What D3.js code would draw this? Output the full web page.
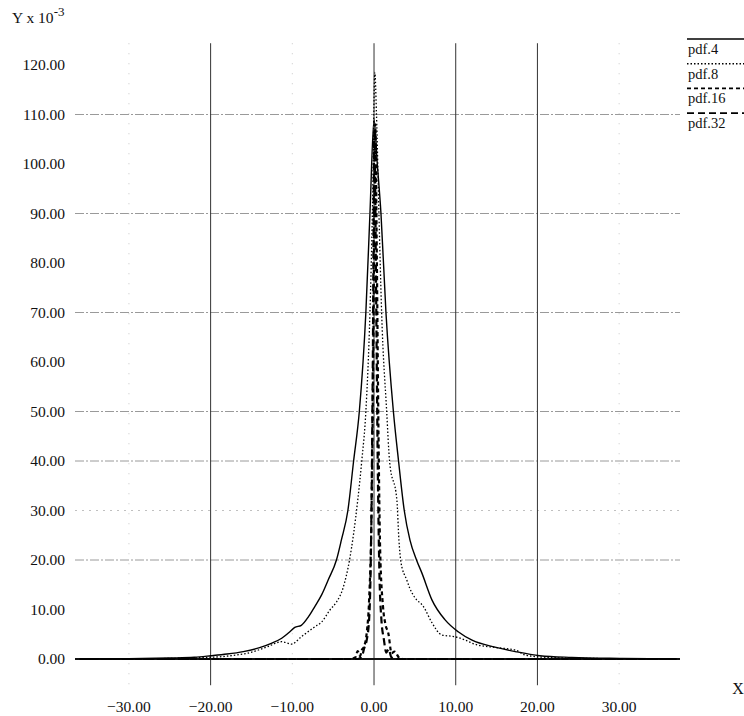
<!DOCTYPE html>
<html>
<head>
<meta charset="utf-8">
<script src="https://cdn.jsdelivr.net/npm/d3@7"></script>
<style>
  body { margin: 0; background: #fff; }
  text { font-family: "Liberation Serif", "DejaVu Serif", serif; fill: #111; }
</style>
</head>
<body>
<div id="chart"></div>
<script>
// values (Y in units of 10^-3)
const yTicks = [0, 10, 20, 30, 40, 50, 60, 70, 80, 90, 100, 110, 120];
const xTicks = [-30, -20, -10, 0, 10, 20, 30];
const hGrid = [20, 30, 40, 50, 70, 90, 110];
const vGridSolid = [-20, 0, 10, 20];
const vGridFaint = [-30, -10, 30];

const seriesNames = ["pdf.4", "pdf.8", "pdf.16", "pdf.32"];

const pdf4X = [-36, -30, -25, -22, -20, -18, -16, -14, -12.5, -11.3, -10.3, -9.7, -8.9, -8, -7.25, -6.4, -5.6, -4.6, -4.0, -3.2, -2.5, -1.8, -1.0, -0.5, 0, 0.4, 0.85, 1.46, 2.37, 3.0, 3.7, 4.4, 5.2, 5.85, 7.1, 8.7, 10.3, 12.0, 14.8, 17.3, 20.3, 24.2, 30.4, 37];
const pdf4Y = [0, 0.05, 0.2, 0.35, 0.65, 1.0, 1.5, 2.3, 3.2, 4.2, 5.5, 6.4, 6.8, 8.6, 10.6, 13, 16, 20, 24, 30, 40, 50, 70, 90, 109, 100, 90, 70, 50, 40, 30, 24, 20, 17.4, 11.9, 7.9, 5.5, 3.8, 2.4, 1.5, 0.67, 0.33, 0.13, 0];

const pdf8X = [-36, -28, -24, -20, -18.7, -16.5, -15.4, -13, -11.3, -10.1, -8.9, -7.25, -6.4, -5.4, -4.6, -3.8, -3.0, -2.0, -1.5, -1.0, -0.5, -0.2, 0.1, 0.3, 0.6, 0.93, 1.55, 1.9, 2.8, 3.05, 3.3, 4.0, 4.4, 5.0, 6.05, 7.1, 8.3, 9.9, 11.2, 12.0, 12.8, 15, 17.3, 18.5, 20.4, 25, 37];
const pdf8Y = [0, 0.05, 0.15, 0.35, 0.47, 0.9, 1.2, 2.5, 3.5, 3.0, 4.5, 6.5, 7.5, 9.9, 11.5, 14.3, 20, 32, 40, 50, 70, 90, 118.5, 110, 90, 70, 50, 40, 32, 24, 19.5, 16, 14.2, 12.4, 10.6, 7.3, 4.85, 4.5, 3.8, 3.2, 2.8, 2.3, 1.8, 0.8, 0.4, 0.15, 0];

const pdf16X = [-36, -3, -2.3, -2.0, -1.7, -1.5, -1.2, -0.9, -0.6, -0.3, -0.1, 0.15, 0.35, 0.55, 0.75, 1.1, 1.4, 1.75, 2.15, 2.5, 3.1, 3.5, 37];
const pdf16Y = [0, 0, 0.3, 1.6, 0.6, 1.8, 2.6, 5.2, 12, 30, 60, 108, 80, 45, 22, 10.6, 7, 5.2, 1.2, 1.5, 0.2, 0, 0];

const pdf32X = [-36, -2.0, -1.5, -1.2, -0.9, -0.6, -0.35, -0.15, 0.05, 0.25, 0.45, 0.65, 0.9, 1.2, 1.5, 1.8, 2.1, 2.6, 37];
const pdf32Y = [0, 0, 0.5, 2.2, 3.8, 8, 25, 60, 107, 75, 40, 18, 8, 4, 1.3, 2.0, 0.4, 0, 0];

function renderChart(){
    const width = 744, height = 716;

    const svg = d3.select("#chart")
        .append("svg")
        .attr("width", width)
        .attr("height", height);

    svg.append("rect")
        .attr("width", width)
        .attr("height", height)
        .attr("fill", "#fff");

    const x = d3.scaleLinear().domain([-36.6, 37.45]).range([75, 680]);
    const y = d3.scaleLinear().domain([0, 120]).range([659, 65]);
    const fmt = d3.format(".2f");

    // horizontal grid
    svg.append("g").selectAll("line").data(hGrid).enter().append("line")
        .attr("x1", x.range()[0]).attr("x2", x.range()[1])
        .attr("y1", d => y(d)).attr("y2", d => y(d))
        .attr("stroke", d => d === 30 ? "#b0b0b0" : "#808080")
        .attr("stroke-width", 0.8)
        .attr("stroke-dasharray", d => d === 30 ? "2,5" : "9,2,2,2");

    // vertical grid
    svg.append("g").selectAll("line").data(vGridSolid).enter().append("line")
        .attr("x1", d => x(d)).attr("x2", d => x(d))
        .attr("y1", y(124.4)).attr("y2", y(-5.3))
        .attr("stroke", "#333")
        .attr("stroke-width", 1);

    svg.append("g").selectAll("line").data(vGridFaint).enter().append("line")
        .attr("x1", d => x(d)).attr("x2", d => x(d))
        .attr("y1", y(124.4)).attr("y2", y(-5.3))
        .attr("stroke", "#bbb")
        .attr("stroke-width", 0.8)
        .attr("stroke-dasharray", "1,9");

    // x axis baseline
    svg.append("line")
        .attr("x1", x.range()[0]).attr("x2", x.range()[1])
        .attr("y1", y(0)).attr("y2", y(0))
        .attr("stroke", "#111")
        .attr("stroke-width", 2);

    // y tick labels
    svg.append("g").selectAll("text").data(yTicks).enter().append("text")
        .attr("x", 65)
        .attr("y", d => y(d))
        .attr("dy", "0.35em")
        .attr("text-anchor", "end")
        .attr("font-size", 15.5)
        .text(d => fmt(d));

    // x tick labels
    svg.append("g").selectAll("text").data(xTicks).enter().append("text")
        .attr("x", d => x(d))
        .attr("y", 712)
        .attr("text-anchor", "middle")
        .attr("font-size", 15.5)
        .text(d => fmt(d));

    // axis titles
    const yt = svg.append("text").attr("x", 12).attr("y", 23).attr("font-size", 15.5);
    yt.append("tspan").text("Y x 10");
    yt.append("tspan").attr("dy", -7).attr("font-size", 13).text("-3");

    svg.append("text").attr("x", 738).attr("y", 694)
        .attr("text-anchor", "middle").attr("font-size", 16).text("X");

    // series
    const styles = [
        { w: 1.4, dash: null },
        { w: 1.3, dash: "1.5,2" },
        { w: 2.2, dash: "4,3" },
        { w: 2.2, dash: "7,4" }
    ];
    const xs = [pdf4X, pdf8X, pdf16X, pdf32X];
    const ys = [pdf4Y, pdf8Y, pdf16Y, pdf32Y];

    const line = d3.line()
        .curve(d3.curveMonotoneX)
        .x(d => x(d[0]))
        .y(d => y(d[1]));

    seriesNames.forEach((name, i) => {
        const pts = xs[i].map((v, k) => [v, ys[i][k]]);
        svg.append("path")
            .datum(pts)
            .attr("class", "series")
            .attr("d", line)
            .attr("fill", "none")
            .attr("stroke", "#000")
            .attr("stroke-width", styles[i].w)
            .attr("stroke-dasharray", styles[i].dash);
    });

    // legend, line above each name
    const legend = svg.append("g");
    seriesNames.forEach((name, i) => {
        const ly = 39 + i * 24.7;
        legend.append("line")
            .attr("x1", 687).attr("x2", 744)
            .attr("y1", ly).attr("y2", ly)
            .attr("stroke", "#000")
            .attr("stroke-width", i === 0 ? 1.4 : 1.6)
            .attr("stroke-dasharray", styles[i].dash);
        legend.append("text")
            .attr("x", 688).attr("y", ly + 15)
            .attr("font-size", 14.5)
            .text(name);
    });
}
renderChart();
</script>
</body>
</html>
